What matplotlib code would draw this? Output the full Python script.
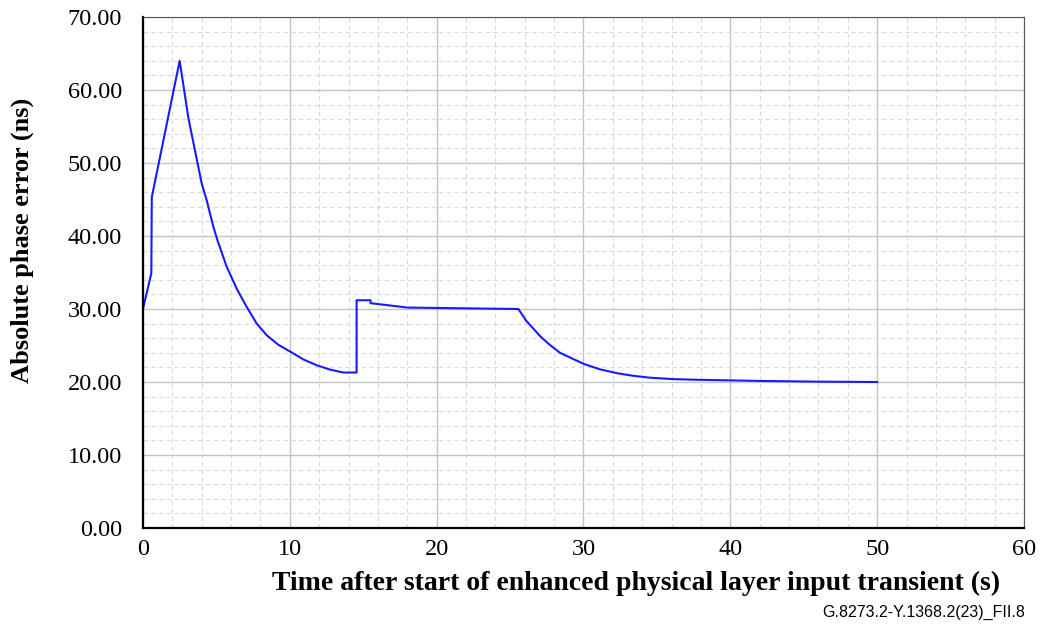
import matplotlib
matplotlib.use("Agg")
import matplotlib.pyplot as plt
from matplotlib.ticker import MultipleLocator, FormatStrFormatter

# values (time in s, phase error in ns)
t = [0.0, 0.0, 0.57, 0.6, 2.5, 3.1, 4.0, 4.34, 4.79, 5.06, 5.7, 6.38, 7.06,
     7.75, 8.43, 9.22, 10.0, 10.92, 11.83, 12.74, 13.65, 14.55, 14.55, 15.5,
     15.5, 18.0, 25.57, 26.1, 27.04, 27.7, 28.4, 30.0, 31.1, 32.3, 33.4,
     34.5, 36.1, 37.9, 42.0, 46.0, 50.0]
err = [20.0, 30.0, 34.9, 45.3, 64.0, 56.1, 47.2, 44.9, 41.3, 39.5, 35.8, 32.8,
       30.3, 28.0, 26.4, 25.1, 24.2, 23.1, 22.3, 21.7, 21.3, 21.3, 31.2, 31.2,
       30.8, 30.2, 30.0, 28.4, 26.3, 25.1, 24.0, 22.5, 21.75, 21.2, 20.85,
       20.6, 20.4, 20.3, 20.15, 20.05, 20.0]

fig = plt.figure(figsize=(10.42, 6.28), dpi=100)
ax = fig.add_axes([0.1372, 0.1592, 0.8455, 0.8137])

ax.plot(t, err, color="#1a1aff", lw=1.5)

ax.set_xlim(0, 60)
ax.set_ylim(0, 70)
ax.xaxis.set_major_locator(MultipleLocator(10))
ax.xaxis.set_minor_locator(MultipleLocator(2))
ax.yaxis.set_major_locator(MultipleLocator(10))
ax.yaxis.set_minor_locator(MultipleLocator(2))
ax.yaxis.set_major_formatter(FormatStrFormatter("%.2f"))

ax.grid(which="major", color="#c4c4c4", lw=1.0, ls="-")
ax.grid(which="minor", color="#dadada", lw=0.8, ls=(0, (4, 3)))
ax.set_axisbelow(True)
ax.tick_params(which="both", length=0, labelsize=17.5)
ax.tick_params(axis="y", pad=15)
ax.tick_params(axis="x", pad=8)
for lab in ax.get_xticklabels() + ax.get_yticklabels():
    lab.set_fontfamily("Liberation Serif")

ax.spines["left"].set_linewidth(1.6)
ax.spines["bottom"].set_linewidth(1.6)
ax.spines["top"].set_color("#555555")
ax.spines["right"].set_color("#555555")

fig.text(0.6104, 0.0717, "Time after start of enhanced physical layer input transient (s)",
         ha="center", va="center", fontfamily="Liberation Serif",
         fontweight="bold", fontsize=20)
fig.text(0.0211, 0.618, "Absolute phase error (ns)", rotation=90,
         ha="center", va="center", fontfamily="Liberation Serif",
         fontweight="bold", fontsize=19)

fig.text(0.984, 0.012, "G.8273.2-Y.1368.2(23)_FII.8", ha="right", va="bottom",
         fontfamily="Liberation Sans", fontsize=11.5)

fig.savefig("out.png", dpi=100)
